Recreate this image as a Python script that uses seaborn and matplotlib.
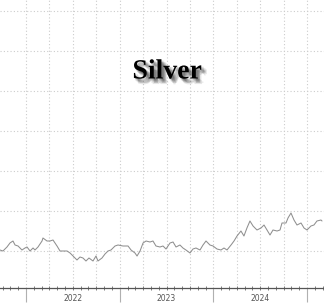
import matplotlib
matplotlib.use("Agg")
import matplotlib.pyplot as plt
import matplotlib.patheffects as pe
import matplotlib.transforms as mtransforms
from matplotlib.ticker import MultipleLocator, FixedLocator, NullFormatter
import seaborn as sns
import pandas as pd

# ---- data (decimal year, price level) ----
years = [2021.722, 2021.754, 2021.797, 2021.829, 2021.861, 2021.883, 2021.915, 2021.957,
         2021.989, 2022.011, 2022.043, 2022.075, 2022.096, 2022.128, 2022.171, 2022.181,
         2022.224, 2022.256, 2022.288, 2022.331, 2022.363, 2022.395, 2022.438, 2022.470,
         2022.502, 2022.544, 2022.576, 2022.608, 2022.640, 2022.672, 2022.715, 2022.747,
         2022.768, 2022.811, 2022.843, 2022.875, 2022.907, 2022.950, 2022.982, 2023.035,
         2023.089, 2023.121, 2023.163, 2023.185, 2023.217, 2023.249, 2023.281, 2023.323,
         2023.355, 2023.387, 2023.430, 2023.462, 2023.494, 2023.537, 2023.569, 2023.601,
         2023.643, 2023.675, 2023.707, 2023.750, 2023.782, 2023.814, 2023.857, 2023.889,
         2023.921, 2023.963, 2023.996, 2024.038, 2024.081, 2024.113, 2024.145, 2024.188,
         2024.220, 2024.252, 2024.294, 2024.326, 2024.358, 2024.390, 2024.423, 2024.465,
         2024.508, 2024.540, 2024.572, 2024.604, 2024.636, 2024.679, 2024.711, 2024.732,
         2024.775, 2024.796, 2024.828, 2024.860, 2024.892, 2024.935, 2024.967, 2024.999,
         2025.041, 2025.073, 2025.105, 2025.148, 2025.159]
prices = [20.25, 20.0, 21.0, 22.0, 22.5, 21.5, 21.25, 20.25,
          20.75, 21.0, 20.0, 20.75, 20.25, 21.0, 22.5, 23.25,
          22.5, 22.5, 22.75, 21.25, 20.0, 20.0, 20.0, 19.5,
          18.75, 17.75, 18.5, 18.25, 17.5, 18.25, 17.5, 18.75,
          17.5, 18.25, 19.25, 20.0, 20.25, 21.25, 21.5, 21.25,
          21.25, 20.25, 19.5, 18.75, 20.0, 22.0, 22.5, 22.25,
          22.5, 21.25, 21.0, 21.25, 20.5, 22.0, 22.25, 21.0,
          21.5, 20.75, 20.25, 19.5, 20.5, 20.75, 20.25, 21.5,
          22.5, 21.5, 21.25, 20.5, 20.25, 20.75, 20.25, 21.5,
          22.5, 23.75, 25.0, 23.75, 25.75, 27.5, 26.25, 25.25,
          25.75, 26.5, 25.25, 24.0, 25.25, 25.0, 25.25, 27.0,
          27.0, 28.25, 29.5, 27.75, 26.5, 27.0, 25.75, 25.25,
          26.25, 26.5, 27.5, 27.75, 27.5]
year_labels = ["2022", "2023", "2024"]
year_starts = [2022, 2023, 2024, 2025]
title = "Silver"

df = pd.DataFrame({"year": years, "price": prices})

sns.set_style("white")
fig = plt.figure(figsize=(3.24, 3.03), dpi=100)
ax = fig.add_axes([0, 15 / 303, 1, 288 / 303])

sns.lineplot(data=df, x="year", y="price", ax=ax, color="#8f8f8f", linewidth=0.75)

ax.set_xlim(2021.7225, 2025.1803)
ax.set_ylim(10.75, 82.75)

# grid
for v in range(20, 90, 10):
    ax.axhline(v, color="#cccccc", linewidth=0.8, linestyle=(0, (1, 2)), zorder=0)
q = 2022.0
while q < 2025.18:
    ax.axvline(q, color="#cccccc", linewidth=0.8, linestyle=(0, (1, 2)), zorder=0)
    q += 0.25

for s in ["left", "right", "top"]:
    ax.spines[s].set_visible(False)
ax.spines["bottom"].set_color("#555555")
ax.spines["bottom"].set_linewidth(0.9)

ax.set_yticks([])
ax.set_xlabel("")
ax.set_ylabel("")
ax.xaxis.set_major_locator(FixedLocator(year_starts))
ax.xaxis.set_major_formatter(NullFormatter())
ax.xaxis.set_minor_locator(MultipleLocator(1 / 12))
ax.tick_params(axis="x", which="major", direction="out", length=10, width=0.8, color="#b0b0b0", bottom=True)
ax.tick_params(axis="x", which="minor", direction="inout", length=3, width=0.6, color="#666666", bottom=True)

trans = mtransforms.blended_transform_factory(ax.transData, ax.transAxes)
for y0, lab in zip(year_starts, year_labels):
    ax.text(y0 + 0.5, -0.038, lab, transform=trans, ha="center", va="center",
            fontsize=5.5, color="#555555", family="DejaVu Sans")

shadow = [pe.SimplePatchShadow(offset=o, shadow_rgbFace="#333333", alpha=0.12)
          for o in [(1, -1), (2, -2), (3, -3), (3, -2), (2, -3), (4, -3), (3, -4), (2, -1), (1, -2)]]
ax.text(0.516, 0.75, title, transform=ax.transAxes, ha="center", va="center",
        fontsize=20, fontweight="bold", family="Liberation Serif", color="black",
        path_effects=shadow + [pe.Normal()])

fig.savefig("out.png", dpi=100)
